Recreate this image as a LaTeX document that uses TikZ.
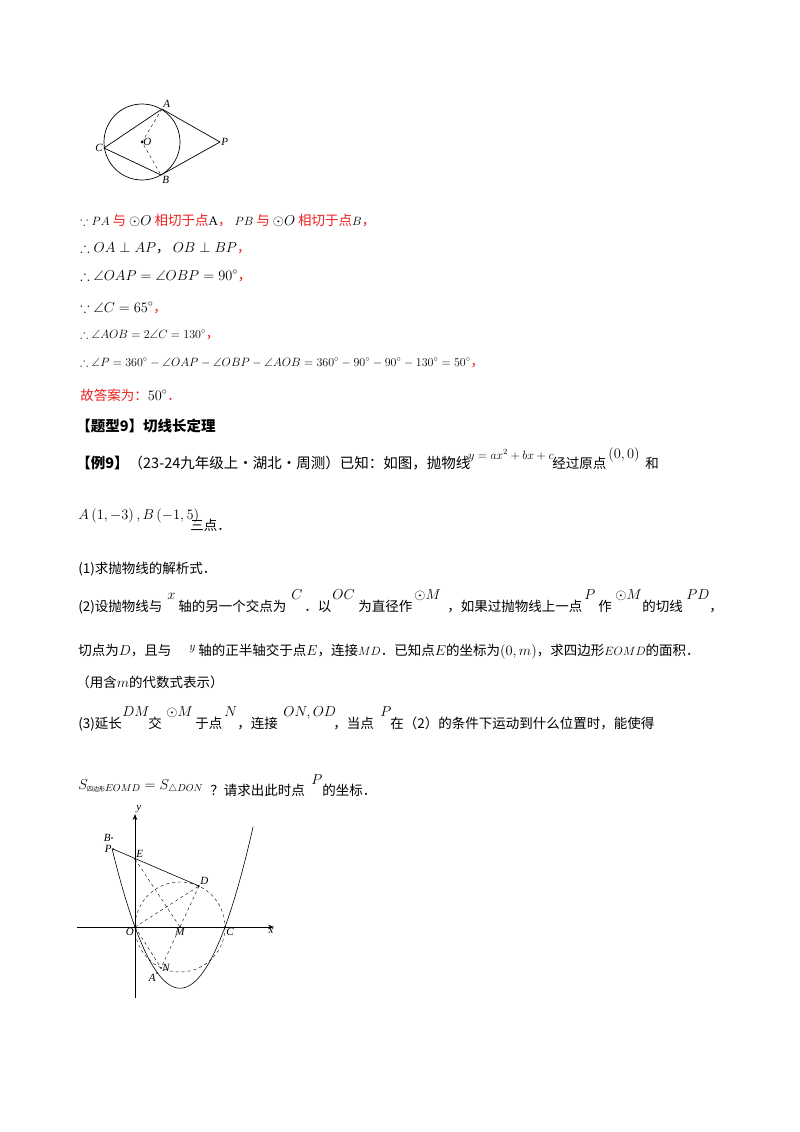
\documentclass[tikz,border=0pt]{standalone}
\usepackage{fontspec}
\usepackage{amssymb}
\usetikzlibrary{arrows.meta}
\setmainfont{Liberation Serif}
\newfontfamily\cjk{Noto Sans CJK SC}
\definecolor{rd}{RGB}{235,30,30}
\newcommand\MM[1]{{\fontsize{14}{16}\selectfont$#1$}}
\newcommand\MS[1]{{\fontsize{12}{14}\selectfont$#1$}}
\tikzset{tx/.style={anchor=base west,inner sep=0pt,font=\fontsize{13.5}{15}\selectfont\cjk},
 sm/.style={anchor=base west,inner sep=0pt,font=\fontsize{14}{16}\selectfont},
 lb/.style={inner sep=1pt,font=\fontsize{11}{12}\selectfont\itshape},
 dsh/.style={dashed,thin}}
\begin{document}
\begin{tikzpicture}[x=1pt,y=-1pt,line width=0.7pt]
\useasboundingbox (0,0) rectangle (800,1132);
% top figure
\coordinate (O) at (142,142);
\draw (O) circle (38);
\coordinate (A) at (162,109);
\coordinate (B) at (161,175);
\coordinate (C) at (104,148);
\coordinate (P) at (220,142);
\draw (C)--(A)--(P)--(B)--cycle;
\draw[dsh] (A)--(O)--(B);
\fill (O) circle (1.5);
\node[lb,anchor=south west] at (A) {A};
\node[lb,anchor=north west] at (B) {B};
\node[lb,anchor=east] at (C) {C};
\node[lb,anchor=west] at (P) {P};
\node[lb,anchor=west] at (O) {O};
% solution lines
\node[tx] at (80,225) {\MS{\because PA} \textcolor{rd}{与} \MM{\odot O} \textcolor{rd}{相切于点}{\rmfamily\fontsize{13}{15}\selectfont A}\textcolor{rd}{，} \MS{PB} \textcolor{rd}{与} \MM{\odot O} \textcolor{rd}{相切于点}\MS{B}\textcolor{rd}{，}};
\node[tx] at (80,252) {\MM{\therefore OA\perp AP}， \MM{OB\perp BP}\textcolor{rd}{，}};
\node[tx] at (80,280) {\MM{\therefore \angle OAP=\angle OBP=90^\circ}\textcolor{rd}{，}};
\node[tx] at (80,312) {\MM{\because \angle C=65^\circ}\textcolor{rd}{，}};
\node[tx] at (80,338) {\MS{\therefore \angle AOB=2\angle C=130^\circ}\textcolor{rd}{，}};
\node[tx] at (80,366) {\MS{\therefore \angle P=360^\circ-\angle OAP-\angle OBP-\angle AOB=360^\circ-90^\circ-90^\circ-130^\circ=50^\circ}\textcolor{rd}{，}};
\node[tx] at (80,400) {\textcolor{rd}{故答案为：}\MM{50^\circ}\textcolor{rd}{．}};
\node[tx,font=\fontsize{14.5}{16}\selectfont\cjk\bfseries] at (76,431) {【题型9】切线长定理};
% example
\node[tx,font=\fontsize{14.5}{16}\selectfont\cjk] at (76,468) {\textbf{【例9】}（23-24九年级上·湖北·周测）已知：如图，抛物线};
\node[sm,font=\fontsize{12}{14}\selectfont] at (468,459) {$y=ax^2+bx+c$};
\node[tx] at (552,468) {经过原点};
\node[sm] at (608,458) {$\left(0,0\right)$};
\node[tx] at (645,468) {和};
\node[tx] at (78,519) {\MM{A\left(1,-3\right),B\left(-1,5\right)}};
\node[tx] at (190,530) {三点．};
\node[tx] at (78,573) {(1)求抛物线的解析式．};
\node[tx] at (78,611) {(2)设抛物线与};
\node[sm] at (167,599) {$x$};
\node[tx] at (178,611) {轴的另一个交点为};
\node[sm] at (291,599) {$C$};
\node[tx] at (304,611) {．以};
\node[sm] at (332,599) {$OC$};
\node[tx] at (358,611) {为直径作};
\node[sm] at (414,599) {$\odot M$};
\node[tx] at (447,611) {，如果过抛物线上一点};
\node[sm] at (584,599) {$P$};
\node[tx] at (598,611) {作};
\node[sm] at (615,599) {$\odot M$};
\node[tx] at (642,611) {的切线};
\node[sm] at (686,599) {$PD$};
\node[tx] at (709,611) {，};
\node[tx] at (78,655) {切点为\MM{D}，且与};
\node[sm,font=\fontsize{12}{14}\selectfont] at (189,650) {$y$};
\node[tx] at (198,655) {轴的正半轴交于点\MM{E}，连接\MS{MD}．已知点\MM{E}的坐标为\MM{\left(0,m\right)}，求四边形\MS{EOMD}的面积．};
\node[tx] at (76,687) {（用含\MM{m}的代数式表示）};
\node[tx] at (78,728) {(3)延长};
\node[sm] at (122,716) {$DM$};
\node[tx] at (148,728) {交};
\node[sm] at (166,716) {$\odot M$};
\node[tx] at (195,728) {于点};
\node[sm] at (224,716) {$N$};
\node[tx] at (237,728) {，连接};
\node[sm] at (283,716) {$ON,OD$};
\node[tx] at (333,728) {，当点};
\node[sm] at (380,716) {$P$};
\node[tx] at (390,728) {在（2）的条件下运动到什么位置时，能使得};
\node[tx] at (78,789) {\MM{S_{\mbox{\cjk\fontsize{6}{7}\selectfont 四边形}EOMD}=S_{\triangle DON}}};
\node[tx] at (210,795) {？请求出此时点};
\node[sm] at (311,784) {$P$};
\node[tx] at (322,795) {的坐标．};
% bottom figure
\begin{scope}[line width=0.6pt]
\coordinate (O2) at (135,927);
\coordinate (M) at (180,927);
\coordinate (C2) at (225,927);
\coordinate (E) at (135,859);
\coordinate (D) at (199,886);
\coordinate (N) at (161,968);
\coordinate (P2) at (113,849);
\coordinate (A2) at (157,973);
\coordinate (B2) at (112,838);
\coordinate (xs) at (77,927); \coordinate (xe) at (274,927);
\coordinate (ys) at (135,998); \coordinate (ye) at (135,814);
\draw[-{Stealth[length=6pt]}] (xs)--(xe);
\draw[-{Stealth[length=6pt]}] (ys)--(ye);
\draw[domain=-1.02:5.25,samples=80,smooth] plot ({135+22.5*\x},{927-15.3*(\x*\x-4*\x)});
\draw[dsh] (M) circle (45);
\draw (P2)--(D);
\draw[dsh] (E)--(M) (O2)--(D) (D)--(N) (O2)--(N);
\foreach \p in {O2,M,C2,D,N,A2,B2,P2,E} \fill (\p) circle (0.9);
\node[lb,anchor=south west] at (ye) {y};
\node[lb,anchor=north] at ([xshift=-3pt]xe) {x};
\node[lb,anchor=east] at (B2) {B};
\node[lb,anchor=east] at (P2) {P};
\node[lb,anchor=south west] at (E) {E};
\node[lb,anchor=south west] at (D) {D};
\node[lb,anchor=north east] at (O2) {O};
\node[lb,anchor=north] at (M) {M};
\node[lb,anchor=north west] at (C2) {C};
\node[lb,anchor=west] at (N) {N};
\node[lb,anchor=north east] at (A2) {A};
\end{scope}
\end{tikzpicture}
\end{document}
